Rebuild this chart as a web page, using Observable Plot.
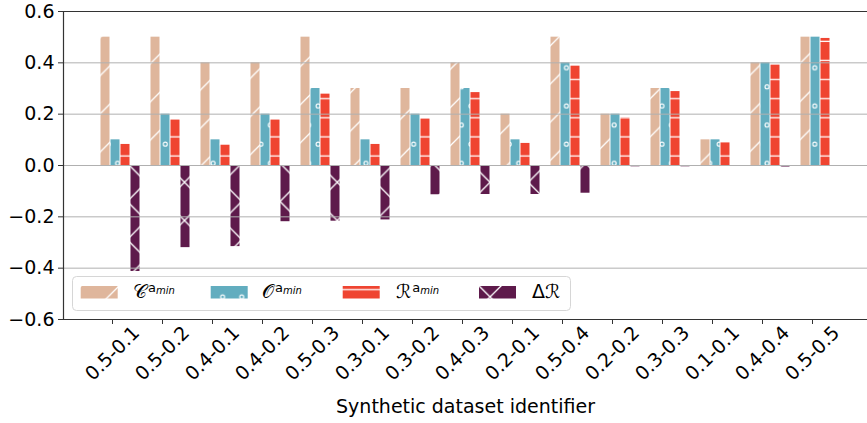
<!DOCTYPE html>
<html><head><meta charset="utf-8">
<script src="https://cdn.jsdelivr.net/npm/d3@7"></script>
<script src="https://cdn.jsdelivr.net/npm/@observablehq/plot@0.6"></script>
<style>
html,body{margin:0;padding:0;background:#fff;}
</style></head><body><div id="chart"></div>
<script>
const datasets = ["0.5-0.1","0.5-0.2","0.4-0.1","0.4-0.2","0.5-0.3","0.3-0.1","0.3-0.2","0.4-0.3","0.2-0.1","0.5-0.4","0.2-0.2","0.3-0.3","0.1-0.1","0.4-0.4","0.5-0.5"];
const cValues = [0.5,0.5,0.4,0.4,0.5,0.3,0.3,0.4,0.2,0.5,0.2,0.3,0.1,0.4,0.5];
const oValues = [0.1,0.2,0.1,0.2,0.3,0.1,0.2,0.3,0.1,0.4,0.2,0.3,0.1,0.4,0.5];
const rValues = [0.082,0.177,0.079,0.177,0.278,0.082,0.182,0.284,0.086,0.387,0.186,0.288,0.088,0.391,0.495];
const deltaR  = [-0.413,-0.32,-0.316,-0.219,-0.217,-0.212,-0.114,-0.113,-0.113,-0.108,-0.005,-0.005,-0.003,-0.006,-0.002];
const yTicks = [-0.6,-0.4,-0.2,0,0.2,0.4,0.6];
const xLabel = "Synthetic dataset identifier";

const series = [
  {key:"C", values:cValues, color:"#dfb69c", pat:"hatch-c", pre:"", main:"𝒞", sup:"a", sub:"min"},
  {key:"O", values:oValues, color:"#62adbf", pat:"hatch-o", pre:"", main:"𝒪", sup:"a", sub:"min"},
  {key:"R", values:rValues, color:"#ef4431", pat:"hatch-r", pre:"", main:"ℛ", sup:"a", sub:"min"},
  {key:"D", values:deltaR,  color:"#5e1a4b", pat:"hatch-d", pre:"Δ", main:"ℛ", sup:"", sub:""}
];

const font = "DejaVu Sans";
const barMarks = series.map((s, k) => Plot.barY(
  datasets.map((d, i) => ({dataset: d, value: s.values[i]})),
  {x: "dataset", y: "value", fill: `url(#${s.pat})`,
   insetLeft: 13.5 + 10*k, insetRight: 27.5 - 10*k}
));

const plot = Plot.plot({
  width: 867, height: 423,
  marginTop: 11, marginBottom: 104, marginLeft: 63, marginRight: 0,
  style: {fontFamily: font, fontSize: "19px", background: "white", color: "#000", overflow: "visible"},
  x: {type: "band", domain: datasets, range: [87, 837], padding: 0, axis: null, label: null},
  y: {domain: [-0.6, 0.6], axis: null, label: null},
  marks: [
    ...barMarks,
    Plot.ruleY(yTicks.filter(t => t > -0.6 && t < 0.6), {stroke: "#b0b0b0", strokeWidth: 1}),
    Plot.ruleY([-0.6, 0.6], {stroke: "#333", strokeWidth: 1.2}),
    Plot.frame({anchor: "left", stroke: "#333", strokeWidth: 1.2}),
    Plot.axisY(yTicks, {tickSize: 5, tickPadding: 4, tickFormat: d3.format(".1f"), stroke: "#333", fontSize: 19, label: null}),
    Plot.axisX({tickSize: 5, tickFormat: () => "", stroke: "#333", label: null}),
    Plot.text(datasets, {x: d => d, frameAnchor: "bottom", rotate: -45, textAnchor: "middle", lineAnchor: "middle", dy: 34, fontSize: 19}),
    Plot.text([xLabel], {frameAnchor: "bottom", text: d => d, dy: 87, lineAnchor: "middle", fontSize: 19})
  ]
});

document.getElementById("chart").appendChild(plot);

// hatch patterns (absolute user-space grid, like matplotlib hatching)
const svg = d3.select(plot);
const defs = svg.insert("defs", ":first-child");
const P = 19.1, P2 = 38.2;
function pat(id, w, h, x, color) {
  const p = defs.append("pattern").attr("id", id).attr("patternUnits", "userSpaceOnUse")
    .attr("width", w).attr("height", h).attr("x", x).attr("y", 0);
  p.append("rect").attr("width", w).attr("height", h).attr("fill", color);
  return p;
}
const slash = "M-10,48.2L48.2,-10M-10,10L10,-10M28.2,48.2L48.2,28.2";
const back = "M-10,10.8L27.4,48.2M7.4,-10L48.2,30.8";
pat("hatch-c", P2, P2, 23, series[0].color).append("path").attr("d", slash).attr("stroke", "#fff").attr("stroke-width", 1.3).attr("fill", "none");
const po = pat("hatch-o", P, P2, 0, series[1].color);
[[3, 10.5], [12.55, 29.6]].forEach(([cx, cy]) => po.append("circle").attr("cx", cx).attr("cy", cy).attr("r", 2).attr("fill", "none").attr("stroke", "#fff").attr("stroke-width", 1.1));
pat("hatch-r", P, P, 0, series[2].color).append("path").attr("d", "M-1,3.2H20").attr("stroke", "#fff").attr("stroke-width", 1.3);
const pd = pat("hatch-d", P2, P2, 23, series[3].color);
pd.append("path").attr("d", slash + back).attr("stroke", "#fff").attr("stroke-width", 1.3).attr("fill", "none");

// legend
const lg = svg.append("g").attr("font-family", font).attr("text-anchor", "start");
lg.append("rect").attr("x", 72.5).attr("y", 276.5).attr("width", 498).attr("height", 34).attr("rx", 4)
  .attr("fill", "#fff").attr("fill-opacity", 0.8).attr("stroke", "#d6d6d6").attr("stroke-width", 1);
const swX = [80.7, 210.7, 342.7, 479];
const lbX = [133, 262, 396, 532];
series.forEach((s, k) => {
  lg.append("rect").attr("x", swX[k]).attr("y", 286).attr("width", 37).attr("height", 12.5).attr("fill", `url(#${s.pat})`);
  const t = lg.append("text").attr("x", lbX[k]).attr("y", 298).attr("font-size", 19).attr("fill", "#000").attr("text-anchor", "start");
  if (s.pre) t.append("tspan").text(s.pre);
  t.append("tspan").text(s.main);
  if (s.sup) {
    t.append("tspan").attr("dx", 1).attr("dy", -6).attr("font-size", 13).text(s.sup);
    t.append("tspan").attr("dy", 2).attr("font-size", 10).attr("font-style", "italic").text(s.sub);
  }
});
</script>
</body></html>
